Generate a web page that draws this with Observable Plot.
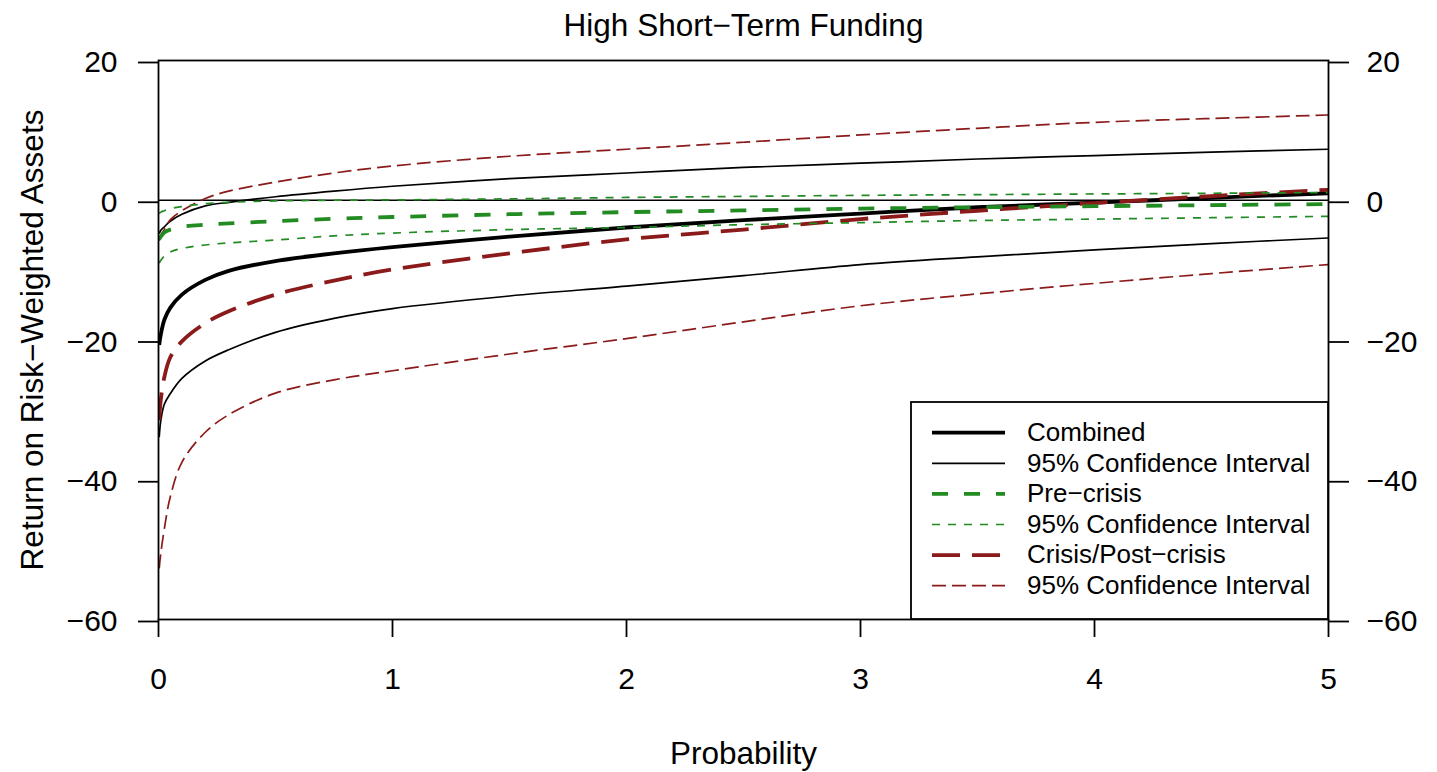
<!DOCTYPE html>
<html>
<head>
<meta charset="utf-8">
<script src="https://cdn.jsdelivr.net/npm/d3@7"></script>
<script src="https://cdn.jsdelivr.net/npm/@observablehq/plot@0.6"></script>
<style>
  html, body { margin: 0; padding: 0; background: #fff; }
  #chart svg { display: block; }
</style>
</head>
<body>
<div id="chart"></div>
<script>
// Estimated return on risk-weighted assets by probability, high short-term funding banks
const prob = [0.003, 0.01, 0.025, 0.05, 0.1, 0.2, 0.3, 0.5, 0.75, 1, 1.5, 2, 2.5, 3, 3.5, 4, 4.5, 5];

const combined   = [-20.7, -19.2, -17.1, -15.4, -13.5, -11.4, -10.1, -8.7, -7.6, -6.7, -5.2, -3.9, -2.85, -1.9, -1.0, -0.35, 0.35, 1.0];
const combinedHi = [-4.8, -4.3, -3.8, -3.0, -2.0, -0.8, -0.3, 0.5, 1.3, 2.0, 3.1, 3.9, 4.7, 5.3, 5.9, 6.4, 6.9, 7.3];
const combinedLo = [-33.9, -31.5, -29.2, -27.7, -25.5, -23.0, -21.4, -18.9, -16.9, -15.5, -13.7, -12.3, -10.8, -9.2, -8.1, -7.1, -6.2, -5.4];

const pre   = [-5.6, -5.2, -4.6, -4.2, -3.8, -3.5, -3.3, -3.0, -2.65, -2.4, -2.0, -1.7, -1.45, -1.2, -1.0, -0.85, -0.7, -0.55];
const preHi = [-1.9, -1.7, -1.5, -1.2, -0.9, -0.5, -0.3, -0.1, 0.0, 0.05, 0.2, 0.4, 0.55, 0.7, 0.8, 0.9, 1.0, 1.1];
const preLo = [-9.0, -8.6, -8.0, -7.4, -6.9, -6.4, -6.1, -5.7, -5.1, -4.7, -4.2, -3.9, -3.5, -3.2, -2.9, -2.7, -2.5, -2.3];

const crisis   = [-31.5, -28.5, -25.3, -22.5, -20.2, -17.6, -15.9, -13.5, -11.5, -9.9, -7.6, -5.6, -4.2, -2.7, -1.5, -0.4, 0.6, 1.5];
const crisisHi = [-5.8, -5.0, -4.2, -2.8, -1.5, 0.25, 1.3, 2.6, 3.9, 4.9, 6.3, 7.3, 8.3, 9.35, 10.3, 11.15, 11.7, 12.2];
const crisisLo = [-52.7, -50.5, -47.0, -42.5, -37.5, -33.2, -30.7, -27.6, -25.7, -24.4, -22.0, -19.8, -17.4, -15.1, -13.4, -11.9, -10.5, -9.2];

const xTicks = [0, 1, 2, 3, 4, 5];
const yTicks = [-60, -40, -20, 0, 20];

const titleText = "High Short\u2212Term Funding";
const xLabel = "Probability";
const yLabel = "Return on Risk\u2212Weighted Assets";

// Line styles for each group of curves
const styles = {
  combined:   {stroke: "#000000", strokeWidth: 3.8, dash: null},
  combinedCI: {stroke: "#000000", strokeWidth: 1.7, dash: null},
  pre:        {stroke: "#228b22", strokeWidth: 3.8, dash: "16,16"},
  preCI:      {stroke: "#228b22", strokeWidth: 1.7, dash: "8,8"},
  crisis:     {stroke: "#8b1a1a", strokeWidth: 3.8, dash: "28,12"},
  crisisCI:   {stroke: "#8b1a1a", strokeWidth: 1.7, dash: "14,6"}
};

// Drawing order: combined, crisis, then pre-crisis on top
const series = [
  {name: "combinedLo", values: combinedLo, style: "combinedCI"},
  {name: "combinedHi", values: combinedHi, style: "combinedCI"},
  {name: "combined",   values: combined,   style: "combined"},
  {name: "crisisLo",   values: crisisLo,   style: "crisisCI"},
  {name: "crisisHi",   values: crisisHi,   style: "crisisCI"},
  {name: "crisis",     values: crisis,     style: "crisis"},
  {name: "preLo",      values: preLo,      style: "preCI"},
  {name: "preHi",      values: preHi,      style: "preCI"},
  {name: "pre",        values: pre,        style: "pre"}
];

const legendItems = [
  {label: "Combined", style: "combined"},
  {label: "95% Confidence Interval", style: "combinedCI"},
  {label: "Pre\u2212crisis", style: "pre"},
  {label: "95% Confidence Interval", style: "preCI"},
  {label: "Crisis/Post\u2212crisis", style: "crisis"},
  {label: "95% Confidence Interval", style: "crisisCI"}
];

const fmt = d => d < 0 ? "\u2212" + Math.abs(d) : String(d);
const font = "'Liberation Sans', Arial, Helvetica, sans-serif";

const lineMarks = series.map(s => {
  const st = styles[s.style];
  const rows = prob.map((p, i) => ({x: p, y: s.values[i]}));
  return Plot.line(rows, {
    x: "x", y: "y",
    stroke: st.stroke,
    strokeWidth: st.strokeWidth,
    strokeDasharray: st.dash ?? undefined,
    strokeLinecap: "butt",
    curve: "catmull-rom",
    clip: true
  });
});

const chart = Plot.plot({
  width: 1437,
  height: 772,
  marginLeft: 158,
  marginRight: 109,
  marginTop: 60,
  marginBottom: 153,
  style: {fontFamily: font, background: "#ffffff", color: "#000000"},
  x: {domain: [0, 5]},
  y: {domain: [-60, 20]},
  marks: [
    Plot.ruleY([0], {stroke: "#000", strokeWidth: 1.7}),
    ...lineMarks,
    Plot.frame({stroke: "#000", strokeWidth: 1.8}),
    Plot.axisX(xTicks, {tickSize: 18, tickPadding: 30, fontSize: 30, strokeWidth: 1.8, label: null, tickFormat: d => String(d)}),
    Plot.axisY(yTicks, {anchor: "left", tickSize: 20, tickPadding: 21, fontSize: 30, strokeWidth: 1.8, dy: 2, label: null, tickFormat: fmt}),
    Plot.axisY(yTicks, {anchor: "right", tickSize: 20, tickPadding: 18, fontSize: 30, strokeWidth: 1.8, dy: 2, label: null, tickFormat: fmt}),
    Plot.text([titleText], {text: d => d, frameAnchor: "top", lineAnchor: "bottom", dy: -25, fontSize: 31.5, fill: "#000"}),
    Plot.text([xLabel], {text: d => d, frameAnchor: "bottom", lineAnchor: "bottom", dy: 144, fontSize: 31.5, fill: "#000"}),
    Plot.text([yLabel], {text: d => d, frameAnchor: "left", textAnchor: "middle", lineAnchor: "bottom", rotate: -90, dx: -116, fontSize: 31.5, fill: "#000"})
  ]
});

// Legend, anchored to the bottom-right corner of the plotting frame
const xs = chart.scale("x"), ys = chart.scale("y");
const cornerX = xs.apply(5), cornerY = ys.apply(-60);
const svg = d3.select(chart);
const lg = svg.append("g").attr("transform", `translate(${cornerX},${cornerY})`);
const boxW = 417, boxH = 217, rowStep = 30.6, firstRow = -186.3;
lg.append("rect")
  .attr("x", -boxW).attr("y", -boxH)
  .attr("width", boxW).attr("height", boxH)
  .attr("fill", "#fff").attr("stroke", "#000").attr("stroke-width", 1.8);
legendItems.forEach((item, i) => {
  const st = styles[item.style];
  const cy = firstRow + i * rowStep;
  lg.append("line")
    .attr("x1", -396).attr("x2", -323)
    .attr("y1", cy).attr("y2", cy)
    .attr("stroke", st.stroke)
    .attr("stroke-width", st.strokeWidth)
    .attr("stroke-dasharray", st.dash)
    .attr("stroke-linecap", "butt");
  lg.append("text")
    .attr("x", -301).attr("y", cy).attr("dy", "0.32em")
    .attr("text-anchor", "start")
    .attr("font-size", 26).attr("font-family", font)
    .attr("fill", "#000")
    .text(item.label);
});

document.getElementById("chart").appendChild(chart);
</script>
</body>
</html>
